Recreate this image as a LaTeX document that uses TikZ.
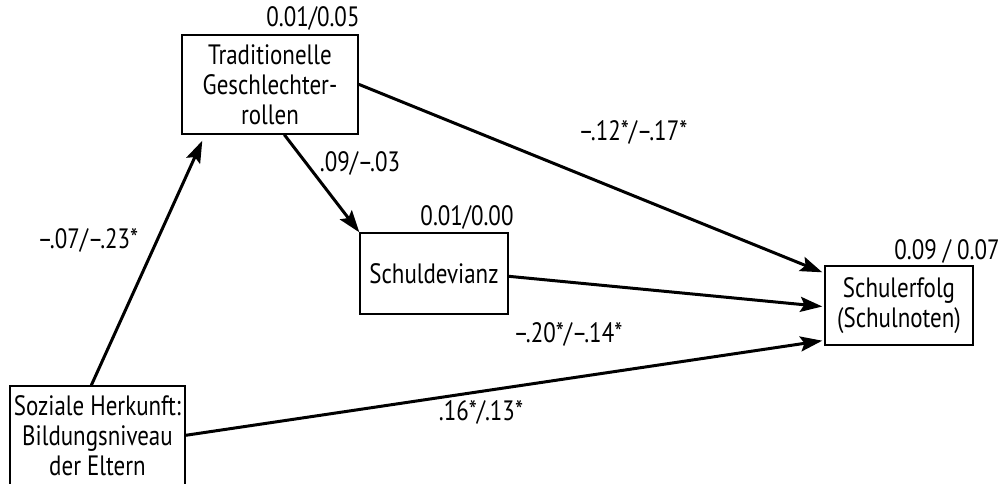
\documentclass[tikz,border=0pt]{standalone}
\usepackage{fontspec}
\setmainfont{PT Sans}[FakeStretch=0.82]
\usetikzlibrary{arrows.meta,calc}
\begin{document}
\begin{tikzpicture}[x=1pt,y=-1pt,
  font=\fontsize{28}{30}\selectfont,
  box/.style={draw,line width=1.4pt,align=center,inner sep=0pt},
  path/.style={line width=3pt,-{Stealth[length=22pt,width=15pt,inset=4pt]}},
  coef/.style={inner sep=0pt}]
\useasboundingbox (0,0) rectangle (1007,484);

% variables
\node[box,minimum width=176pt,minimum height=99pt] (trad) at (270,84.5)
  {Traditionelle\\Geschlechter-\\rollen};
\node[box,minimum width=148pt,minimum height=81pt] (dev) at (434,273.5) {Schuldevianz};
\node[box,minimum width=148pt,minimum height=79pt] (erf) at (899,305.5)
  {Schulerfolg\\(Schulnoten)};
\node[box,minimum width=175pt,minimum height=100pt] (soz) at (97.5,436)
  {Soziale Herkunft:\\Bildungsniveau\\der Eltern};

% explained variance
\node[coef] (r2trad) at (313,18) {0.01/0.05};
\node[coef] (r2dev) at (467,217) {0.01/0.00};
\node[coef] (r2erf) at (947,251) {0.09 / 0.07};

% paths
\draw[path] ($(soz.north west)+(82,0)$) -- ($(trad.south west)+(21,6)$);
\draw[path] ($(trad.south west)+(103,0)$) -- (dev.north west);
\draw[path] ($(trad.north east)+(0,50)$) -- ($(erf.north west)+(-2,7)$);
\draw[path] ($(dev.north east)+(0,44)$) -- ($(erf.west)+(-2,1)$);
\draw[path] ($(soz.north east)+(0,50)$) -- ($(erf.south west)+(-2,-5)$);

% path coefficients
\node[coef] (c1) at (88,240) {–.07/–.23*};
\node[coef] (c2) at (360,163) {.09/–.03};
\node[coef] (c3) at (633,132) {–.12*/–.17*};
\node[coef] (c4) at (568,334) {–.20*/–.14*};
\node[coef] (c5) at (481,412) {.16*/.13*};
\end{tikzpicture}
\end{document}
